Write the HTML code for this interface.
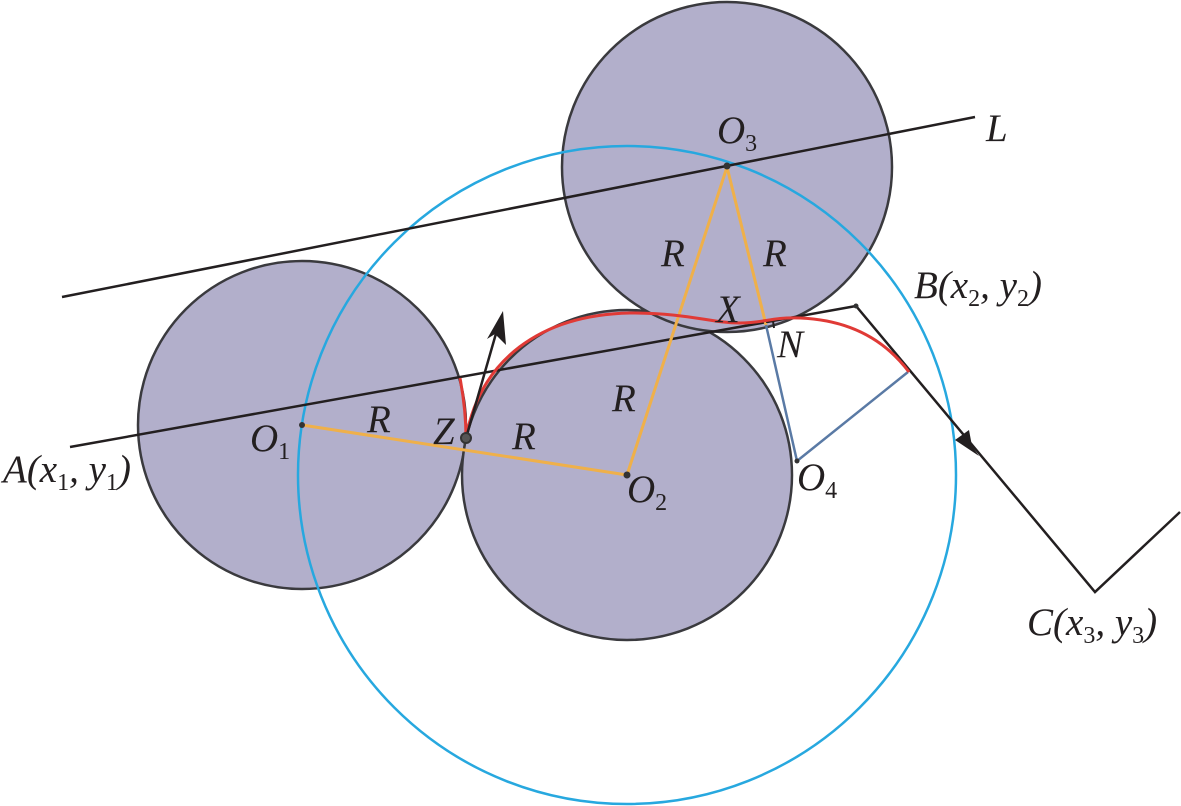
<!DOCTYPE html>
<html><head><meta charset="utf-8"><style>
html,body{margin:0;padding:0;background:#fff;}
svg{display:block;}
text{font-family:"Liberation Serif",serif;font-style:italic;font-size:39px;fill:#231f20;}
.s{font-size:24px;font-style:normal;}
</style></head><body>
<svg width="1181" height="806" viewBox="0 0 1181 806" xmlns="http://www.w3.org/2000/svg">
<g fill="#b2afcb" stroke="#3a3a3e" stroke-width="2.5">
<circle cx="302" cy="425" r="164"/>
<circle cx="627" cy="475" r="165"/>
<circle cx="727" cy="167" r="165"/>
</g>
<circle cx="627" cy="475" r="329" fill="none" stroke="#27a8df" stroke-width="2.5"/>
<line x1="62" y1="297" x2="975" y2="117" stroke="#231f20" stroke-width="2.5"/>
<polyline points="70,447 856,306 1095,592 1180,512" fill="none" stroke="#231f20" stroke-width="2.5"/>
<polygon points="979,456 955,440 969,430 972,446" fill="#231f20"/>
<g stroke="#efb04a" stroke-width="3" fill="none">
<line x1="302" y1="425" x2="627" y2="475"/>
<line x1="627" y1="475" x2="727" y2="167"/>
<line x1="727" y1="167" x2="766" y2="325"/>
</g>
<polyline points="766,325 797,461 908,372" fill="none" stroke="#5a7aa5" stroke-width="2.5"/>
<polyline points="766,322 773,321 774,328" fill="none" stroke="#231f20" stroke-width="2"/>
<path d="M460,378 Q466,410 466,438 C480,360 540,315 630,313 C690,313 710,323 740,323 C765,323 770,317 800,318 C850,320 885,340 909,372" fill="none" stroke="#e03a36" stroke-width="3"/>
<line x1="466" y1="438" x2="497" y2="330" stroke="#231f20" stroke-width="2.5"/>
<polygon points="503,311 506,345 495,334 487,339" fill="#231f20"/>
<circle cx="466" cy="438" r="5" fill="#555" stroke="#333" stroke-width="2"/>
<circle cx="302" cy="425" r="3" fill="#333"/>
<circle cx="627" cy="475" r="3.5" fill="#333"/>
<circle cx="727" cy="166" r="3.5" fill="#333"/>
<circle cx="797" cy="461" r="2.5" fill="#333"/>
<circle cx="856" cy="306" r="2.5" fill="#333"/>
<text x="986" y="141">L</text>
<text x="717" y="143">O<tspan class="s" dy="8">3</tspan></text>
<text x="661" y="266">R</text>
<text x="763" y="266">R</text>
<text x="716" y="322">X</text>
<text x="777" y="357">N</text>
<text x="914" y="298">B(x<tspan class="s" dy="8">2</tspan><tspan dy="-8">, y</tspan><tspan class="s" dy="8">2</tspan><tspan dy="-8">)</tspan></text>
<text x="612" y="411">R</text>
<text x="367" y="432">R</text>
<text x="433" y="444">Z</text>
<text x="512" y="449">R</text>
<text x="250" y="451">O<tspan class="s" dy="8">1</tspan></text>
<text x="3" y="482">A(x<tspan class="s" dy="8">1</tspan><tspan dy="-8">, y</tspan><tspan class="s" dy="8">1</tspan><tspan dy="-8">)</tspan></text>
<text x="627" y="502">O<tspan class="s" dy="8">2</tspan></text>
<text x="797" y="490">O<tspan class="s" dy="8">4</tspan></text>
<text x="1027" y="635">C(x<tspan class="s" dy="8">3</tspan><tspan dy="-8">, y</tspan><tspan class="s" dy="8">3</tspan><tspan dy="-8">)</tspan></text>
</svg>
</body></html>
